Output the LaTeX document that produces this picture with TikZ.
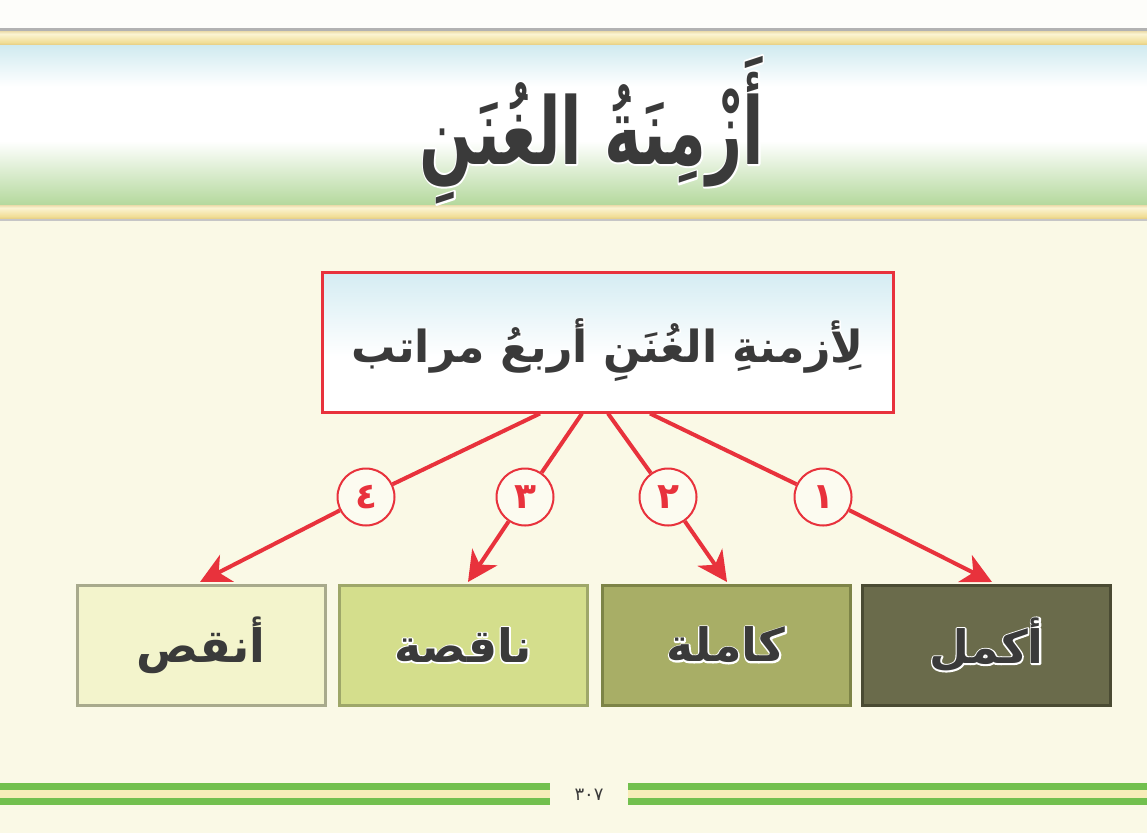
\documentclass[tikz,border=0pt]{standalone}
\usepackage{fontspec}
\usepackage{graphicx}
\usetikzlibrary{arrows.meta,calc}
\TeXXeTstate=1
\newfontfamily\arabicfont[Script=Arabic]{DejaVu Sans}
\definecolor{pagebg}{HTML}{FAF9E6}
\definecolor{topbg}{HTML}{FDFDFA}
\definecolor{bblue}{HTML}{A2D6E1}
\definecolor{bgreen}{HTML}{8CC468}
\definecolor{goldA}{HTML}{C49C45}
\definecolor{goldB}{HTML}{F1DE98}
\definecolor{goldC}{HTML}{FBF4D2}
\definecolor{redline}{HTML}{E8323C}
\definecolor{circfill}{HTML}{FCFBF0}
\definecolor{txtgray}{HTML}{3A3A3A}
\definecolor{boxblue}{HTML}{B0DCE8}
\definecolor{stripegreen}{HTML}{72C04E}
\definecolor{stripecream}{HTML}{F7EDB8}
\definecolor{fillA}{HTML}{6A6B4B}\definecolor{drawA}{HTML}{4A4B33}
\definecolor{fillB}{HTML}{A8AE66}\definecolor{drawB}{HTML}{7D8447}
\definecolor{fillC}{HTML}{D4DE8C}\definecolor{drawC}{HTML}{9EA769}
\definecolor{fillD}{HTML}{F3F4CC}\definecolor{drawD}{HTML}{A8AA8C}
\pgfdeclareverticalshading{banner}{100bp}{color(0bp)=(bgreen); color(22bp)=(bgreen!75!white); color(45bp)=(white); color(62bp)=(white); color(80bp)=(bblue!70!white); color(100bp)=(bblue)}
\pgfdeclareverticalshading{goldband}{100bp}{color(0bp)=(goldA); color(35bp)=(goldB); color(65bp)=(goldC); color(100bp)=(goldA)}
\pgfdeclareverticalshading{mainbox}{100bp}{color(0bp)=(white); color(45bp)=(white); color(100bp)=(boxblue)}
% text with a white halo: a stroked copy under the normal text
\newcommand{\halotext}[2][3]{\leavevmode\rlap{\special{pdf:code q 1 Tr #1 w 1 j 1 J 1 1 1 RG}\beginR #2\endR\special{pdf:code Q}}\beginR #2\endR}
\begin{document}
\begin{tikzpicture}[x=1pt,y=-1pt,
  mainbox/.style={draw=redline, line width=3pt, shading=mainbox, minimum width=571pt, minimum height=140pt, inner sep=0pt},
  levelbox/.style={line width=3pt, minimum width=248pt, minimum height=120pt, inner sep=0pt,
     font=\arabicfont\bfseries\fontsize{46}{46}\selectfont, text=txtgray},
  numc/.style={circle, draw=redline, line width=2pt, fill=circfill, minimum size=57pt, inner sep=0pt,
     font=\arabicfont\bfseries\fontsize{36}{36}\selectfont, text=redline},
  conn/.style={draw=redline, line width=4pt},
  arr/.style={conn, -{Stealth[length=30pt,width=30pt,inset=9pt]}}]
\useasboundingbox (0,0) rectangle (1147,833);
% backgrounds
\fill[pagebg] (0,0) rectangle (1147,833);
\fill[topbg] (0,0) rectangle (1147,29);
% top banner
\fill[gray!60] (0,28) rectangle (1147,32);
\shade[shading=goldband] (0,31) rectangle (1147,45);
\shade[shading=banner] (0,45) rectangle (1147,205);
\shade[shading=goldband] (0,205) rectangle (1147,219);
\fill[gray!45] (0,219) rectangle (1147,221);
\node[text=txtgray] (title) at (592,130) {\resizebox*{345pt}{148pt}{\arabicfont\bfseries\fontsize{60}{60}\selectfont\halotext[2.5]{أَزْمِنَةُ الغُنَنِ}}};
% main box
\node[mainbox] (main) at (607.5,342) {};
\node[text=txtgray] (maintext) at (607.5,350) {\resizebox{512pt}{!}{\arabicfont\bfseries\fontsize{40}{40}\selectfont\halotext[2]{لِأزمنةِ الغُنَنِ أربعُ مراتب}}};
% level boxes
\node[levelbox, fill=fillA, draw=drawA] (b1) at (986.5,645) {\halotext{أكمل}};
\node[levelbox, fill=fillB, draw=drawB] (b2) at (726,645) {\halotext{كاملة}};
\node[levelbox, fill=fillC, draw=drawC] (b3) at (463,645) {\halotext{ناقصة}};
\node[levelbox, fill=fillD, draw=drawD] (b4) at (201,645) {\beginR أنقص\endR};
% start and end points
\coordinate (s4) at ([xshift=-67.5pt]main.south);
\coordinate (s3) at ([xshift=-25.5pt]main.south);
\coordinate (s2) at ([xshift=0.5pt]main.south);
\coordinate (s1) at ([xshift=42.5pt]main.south);
\coordinate (t4) at ([xshift=-1pt,yshift=1.5pt]b4.north);
\coordinate (t3) at ([xshift=5pt,yshift=1.5pt]b3.north);
\coordinate (t2) at ([xshift=1pt,yshift=1.5pt]b2.north);
\coordinate (t1) at ([xshift=5.5pt,yshift=1.5pt]b1.north);
% number circles
\node[numc] (c4) at (366,497) {٤};
\node[numc] (c3) at (525,497) {٣};
\node[numc] (c2) at (668,497) {٢};
\node[numc] (c1) at (823,497) {١};
% connectors
\draw[conn] (s4) -- (c4);
\draw[conn] (s3) -- (c3);
\draw[conn] (s2) -- (c2);
\draw[conn] (s1) -- (c1);
\draw[arr] (c4) -- (t4);
\draw[arr] (c3) -- (t3);
\draw[arr] (c2) -- (t2);
\draw[arr] (c1) -- (t1);
% bottom stripes
\fill[stripegreen] (0,783) rectangle (550,790);
\fill[stripecream] (0,790) rectangle (550,798);
\fill[stripegreen] (0,798) rectangle (550,805);
\fill[stripegreen] (628,783) rectangle (1147,790);
\fill[stripecream] (628,790) rectangle (1147,798);
\fill[stripegreen] (628,798) rectangle (1147,805);
\node[text=txtgray, font=\arabicfont\fontsize{18}{18}\selectfont] (pagenum) at (589,795) {٣٠٧};
\end{tikzpicture}
\end{document}
